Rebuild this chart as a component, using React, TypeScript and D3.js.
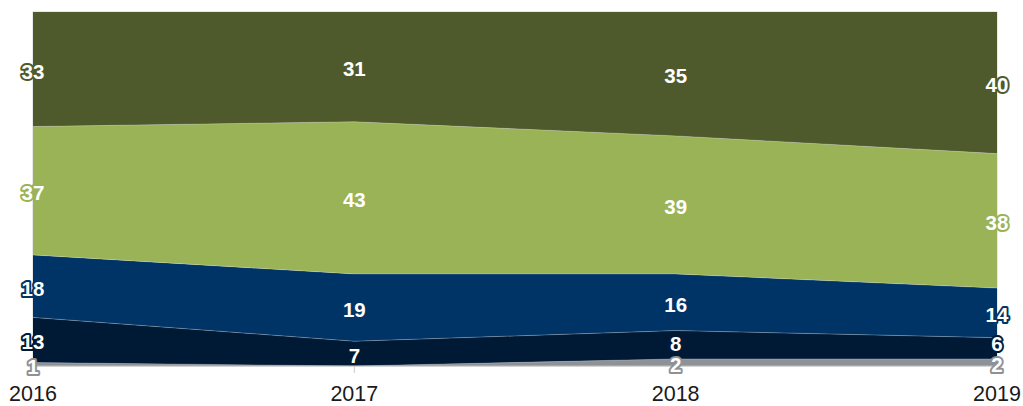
import React from "react";
import * as d3 from "d3";

const years = ["2016", "2017", "2018", "2019"];
const seriesKeys = ["s1", "s2", "s3", "s4", "s5"];
const s1 = [1, 0, 2, 2];
const s2 = [13, 7, 8, 6];
const s3 = [18, 19, 16, 14];
const s4 = [37, 43, 39, 38];
const s5 = [33, 31, 35, 40];
const seriesValues = [s1, s2, s3, s4, s5];
const colors = ["#8e9297", "#001a35", "#003466", "#9bb357", "#4f5a2c"];

const W = 1023;
const H = 406;
const M = { left: 33, right: 26, top: 12, bottom: 40 };

export default function App() {
  const rows = years.map((y, i) => {
    const r: any = { year: y };
    seriesKeys.forEach((k, j) => (r[k] = seriesValues[j][i]));
    return r;
  });
  const stack = d3.stack<any>().keys(seriesKeys).offset(d3.stackOffsetExpand);
  const layers = stack(rows);
  const x = d3.scalePoint<string>().domain(years).range([M.left, W - M.right]);
  const y = d3.scaleLinear().domain([0, 1]).range([H - M.bottom, M.top]);
  const area = d3
    .area<any>()
    .x((d) => x(d.data.year)!)
    .y0((d) => y(d[0]))
    .y1((d) => y(d[1]));
  const topLine = d3
    .line<any>()
    .x((d) => x(d.data.year)!)
    .y((d) => y(d[1]));

  // labels with simple collision avoidance (bottom up)
  const labels: any[] = [];
  years.forEach((yr, i) => {
    let prev = Infinity;
    layers.forEach((layer, j) => {
      const v = seriesValues[j][i];
      const d = layer[i];
      let cy = (y(d[0]) + y(d[1])) / 2 + 2;
      if (v <= 0) return;
      if (cy > prev - 21) cy = prev - 21;
      prev = cy;
      labels.push({ x: x(yr)!, y: cy, text: String(v), color: colors[j] });
    });
  });

  const baseY = y(0);
  return (
    <svg
      width={W}
      height={H}
      style={{ position: "absolute", left: 0, top: 0, background: "#fff" }}
      fontFamily="'Liberation Sans', Arial, sans-serif"
    >
      <rect
        x={M.left}
        y={M.top}
        width={W - M.left - M.right}
        height={baseY - M.top}
        fill="none"
        stroke="#d4d4d4"
        strokeWidth={1}
      />
      {layers.map((layer, j) => (
        <path key={j} d={area(layer)!} fill={colors[j]} />
      ))}
      {layers.slice(0, 4).map((layer, j) => (
        <path
          key={"l" + j}
          d={topLine(layer)!}
          fill="none"
          stroke="rgba(255,255,255,0.3)"
          strokeWidth={0.8}
        />
      ))}
      <line x1={M.left} x2={W - M.right} y1={baseY} y2={baseY} stroke="#bfbfbf" strokeWidth={1} />
      {years.map((yr) => (
        <g key={yr}>
          <line x1={x(yr)} x2={x(yr)} y1={baseY} y2={baseY + 7} stroke="#c8c8c8" />
          <text x={x(yr)} y={401} textAnchor="middle" fontSize={21.5} fill="#1a1a1a">
            {yr}
          </text>
        </g>
      ))}
      {labels.map((l, k) => (
        <text
          key={k}
          x={l.x}
          y={l.y}
          textAnchor="middle"
          dominantBaseline="central"
          fontSize={20.5}
          fontWeight="bold"
          fill="#fff"
          stroke={l.color}
          strokeWidth={4}
          strokeLinejoin="round"
          paintOrder="stroke"
        >
          {l.text}
        </text>
      ))}
    </svg>
  );
}
